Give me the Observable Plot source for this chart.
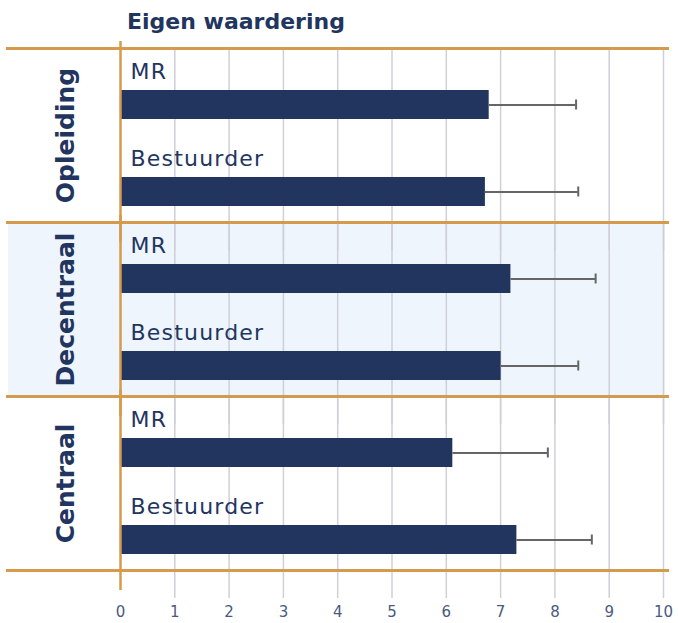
<!DOCTYPE html>
<html><head><meta charset="utf-8">
<script src="https://cdn.jsdelivr.net/npm/d3@7"></script>
<script src="https://cdn.jsdelivr.net/npm/@observablehq/plot@0.6"></script>
<style>
body{margin:0;background:#fff;font-family:"DejaVu Sans",sans-serif;}
#title{height:40px;padding-left:127px;font-weight:bold;font-size:22px;color:#22355f;line-height:44px;box-sizing:border-box;}
.serieslabel text, text.serieslabel{letter-spacing:1.2px;}
</style></head><body>
<div id="title">Eigen waardering</div>
<div id="chart"></div>
<script>
const groups = ["Opleiding", "Decentraal", "Centraal"];
const series = ["MR", "Bestuurder"];
const mrValues = [6.79, 7.19, 6.12];
const mrUpper = [8.39, 8.75, 7.87];
const bestuurderValues = [6.72, 7.01, 7.30];
const bestuurderUpper = [8.43, 8.43, 8.68];
const xTicks = [0, 1, 2, 3, 4, 5, 6, 7, 8, 9, 10];
const highlighted = ["Decentraal"];

const navy = "#22355f";
const orange = "#d69a4c";

const rows = [];
groups.forEach((g, i) => {
  rows.push({group: g, series: "MR", value: mrValues[i], upper: mrUpper[i]});
  rows.push({group: g, series: "Bestuurder", value: bestuurderValues[i], upper: bestuurderUpper[i]});
});

const chart = Plot.plot({
  width: 678,
  height: 583,
  marginTop: 7,
  marginBottom: 53,
  marginLeft: 120,
  marginRight: 15,
  x: {domain: [0, 10], ticks: xTicks, tickSize: 0, tickPadding: 36, label: null},
  y: {domain: series, padding: 0, axis: null},
  fy: {domain: groups, padding: 0, axis: null},
  style: {fontFamily: "DejaVu Sans, sans-serif", fontSize: "15px", color: "#4a5a80", overflow: "visible", background: "transparent"},
  marks: [
    Plot.rect(highlighted, {fy: d => d, fill: "#eef5fc", insetLeft: -112, insetRight: -2}),
    Plot.ruleX(xTicks.filter(t => t > 0), {stroke: "#cfd0d7", strokeWidth: 1.5, insetBottom: -28}),
    Plot.barX(rows, {fy: "group", y: "series", x: "value", fill: navy, insetTop: 42, insetBottom: 16}),
    Plot.ruleY(rows, {fy: "group", y: "series", x1: "value", x2: "upper", stroke: "#666", strokeWidth: 2, dy: 13}),
    Plot.tickX(rows, {fy: "group", y: "series", x: "upper", stroke: "#666", strokeWidth: 2, insetTop: 51.5, insetBottom: 25.5}),
    Plot.text(rows, {fy: "group", y: "series", x: 0, text: "series", textAnchor: "start", dx: 10, dy: -20, fontSize: 22, fill: navy, className: "serieslabel"}),
    Plot.text(groups, {fy: d => d, text: d => d, frameAnchor: "left", textAnchor: "middle", dx: -55, rotate: -90, fontWeight: "bold", fontSize: 25, fill: navy}),
    Plot.frame({anchor: "top", stroke: orange, strokeWidth: 3, insetLeft: -113, insetRight: -4}),
    Plot.frame({anchor: "bottom", stroke: orange, strokeWidth: 3, insetLeft: -113, insetRight: -4}),
    Plot.ruleX([0], {stroke: orange, strokeWidth: 2.5, insetTop: -7, insetBottom: -20})
  ]
});
document.getElementById("chart").appendChild(chart);
</script>
</body></html>
